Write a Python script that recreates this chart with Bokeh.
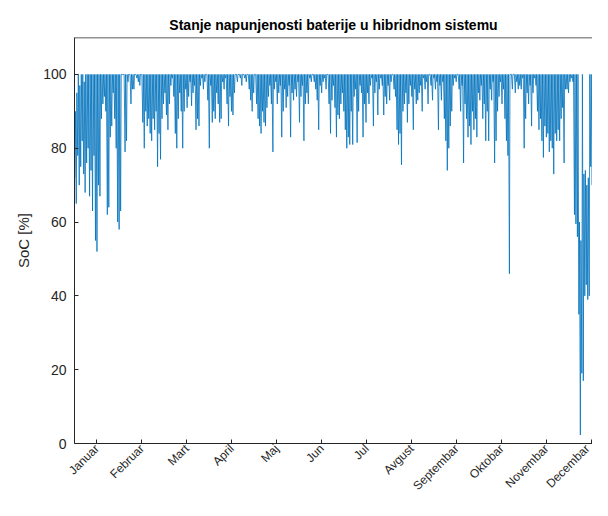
import math
from bokeh.plotting import figure
from bokeh.models import FixedTicker, LinearAxis, Range1d, Span
from bokeh.embed import file_html
from bokeh.resources import INLINE

# ---------------- data ----------------
month_names = ["Januar", "Februar", "Mart", "April", "Maj", "Jun", "Jul",
               "Avgust", "Septembar", "Oktobar", "Novembar", "Decembar"]
month_tick_hours = [365, 1095, 1825, 2555, 3285, 4015, 4745, 5475, 6205, 6935, 7665, 8395]
y_ticks = [0, 20, 40, 60, 80, 100]

# daily minimum state of charge [%], day 0 .. 364
daily_min = [
    72, 65, 78, 70, 75, 82, 73, 68, 76, 80,
    67, 74, 63, 78, 55, 52, 70, 67, 88, 92,
    94, 90, 62, 64, 83, 86, 95, 88, 80, 60,
    58, 63, 100, 100, 79, 82, 98, 100, 92, 96,
    96, 100, 99, 98, 97, 100, 87, 80, 90, 86,
    88, 84, 82, 88, 85, 90, 75, 84, 77, 88,
    92, 95, 89, 85, 92, 97, 99, 94, 84, 80,
    88, 95, 90, 80, 90, 96, 91, 94, 98, 91.5,
    95, 97, 85, 88, 86, 97, 99, 96, 98, 100,
    93, 80, 97, 87, 90, 88, 95, 92, 87, 88,
    98, 96, 99, 92, 86, 94, 90, 89, 95, 100,
    98, 100, 99, 97, 100, 99, 98, 100, 96, 93,
    90, 95, 100, 92, 88, 86, 84, 90, 87, 86,
    91, 94, 97, 92, 79, 96, 98, 92, 95, 97,
    83, 90, 96, 91, 94, 97, 83, 95, 93, 96,
    94, 98, 87, 94, 97, 82, 92, 95, 92, 99,
    98, 100, 98, 96, 93, 85, 97, 95, 98, 99,
    96, 100, 92, 84, 93, 97, 91, 83, 89, 88,
    92, 95, 90, 85, 80, 83, 81, 90, 81, 94,
    96, 81.5, 90, 97, 95, 83, 92, 87, 95, 92,
    97, 99, 86, 95, 98, 89, 96, 99, 97, 89,
    94, 92, 97, 93, 98, 100, 96, 94, 85, 81,
    84, 75.5, 90, 92, 95, 87, 92, 97, 94, 85,
    96, 92, 93, 95, 97, 90, 99, 96, 98, 92,
    100, 97, 93, 99, 96, 98, 85, 97, 93, 98,
    88, 82, 74, 80, 86, 90, 97, 99, 98, 100,
    96, 90, 97, 76, 92, 88, 83, 86, 81, 90,
    85, 88, 83, 95, 93, 97, 88, 92, 82, 90,
    82, 96, 93, 98, 76, 82, 90, 94, 98, 92,
    96, 88, 82, 78, 46, 100, 96, 100, 95, 98,
    96, 97, 96, 99, 80, 88, 95, 92, 97, 86,
    95, 99, 97, 90, 85, 88, 82, 77.5, 86, 83,
    84, 79, 82, 80, 73, 84, 82, 85, 82, 88,
    91, 76, 96, 96, 95, 98, 99, 98, 62, 59.5,
    56, 35, 2.3, 19, 17, 40, 43, 39, 40, 75,
    70, 72, 71, 65, 93, 95, 97, 98, 95, 97,
    99, 96, 98, 100, 97,
]

# daily maximum state of charge [%], day 0 .. 364
daily_max = [
    90, 95, 100, 97, 100, 100, 98, 100, 100, 100, 100, 100, 100, 100, 100, 100, 100, 100, 100, 100,
    100, 100, 100, 100, 100, 100, 100, 100, 100, 100, 100, 100, 100, 100, 100, 100, 100, 100, 100, 100,
    100, 100, 100, 100, 100, 100, 100, 100, 100, 100, 100, 100, 100, 100, 100, 100, 100, 100, 100, 100,
    100, 100, 100, 100, 100, 100, 100, 100, 100, 100, 100, 100, 100, 100, 100, 100, 100, 100, 100, 100,
    100, 100, 100, 100, 100, 100, 100, 100, 100, 100, 100, 100, 100, 100, 100, 100, 100, 100, 100, 100,
    100, 100, 100, 100, 100, 100, 100, 100, 100, 100, 100, 100, 100, 100, 100, 100, 100, 100, 100, 100,
    100, 100, 100, 100, 100, 100, 100, 100, 100, 100, 100, 100, 100, 100, 100, 100, 100, 100, 100, 100,
    100, 100, 100, 100, 100, 100, 100, 100, 100, 100, 100, 100, 100, 100, 100, 100, 100, 100, 100, 100,
    100, 100, 100, 100, 100, 100, 100, 100, 100, 100, 100, 100, 100, 100, 100, 100, 100, 100, 100, 100,
    100, 100, 100, 100, 100, 100, 100, 100, 100, 100, 100, 100, 100, 100, 100, 100, 100, 100, 100, 100,
    100, 100, 100, 100, 100, 100, 100, 100, 100, 100, 100, 100, 100, 100, 100, 100, 100, 100, 100, 100,
    100, 100, 100, 100, 100, 100, 100, 100, 100, 100, 100, 100, 100, 100, 100, 100, 100, 100, 100, 100,
    100, 100, 100, 100, 100, 100, 100, 100, 100, 100, 100, 100, 100, 100, 100, 100, 100, 100, 100, 100,
    100, 100, 100, 100, 100, 100, 100, 100, 100, 100, 100, 100, 100, 100, 100, 100, 100, 100, 100, 100,
    100, 100, 100, 100, 100, 100, 100, 100, 100, 100, 100, 100, 100, 100, 100, 100, 100, 100, 100, 100,
    100, 100, 100, 100, 100, 100, 100, 100, 100, 100, 100, 100, 100, 100, 100, 100, 100, 100, 100, 100,
    100, 100, 100, 100, 100, 100, 100, 100, 100, 100, 100, 100, 100, 100, 100, 100, 100, 100, 100, 100,
    100, 60, 55, 100, 73, 74, 70, 72, 100, 100, 100, 100, 100, 100, 100, 100, 100, 100, 100, 100,
    100, 100, 100, 100, 100,
]

MIN_HOUR = 5    # hour of day of the daily minimum
MAX_HOUR = 14   # hour of day of the daily maximum

hours, soc = [], []
for d, (lo, hi) in enumerate(zip(daily_min, daily_max)):
    hours += [24 * d + MIN_HOUR, 24 * d + MAX_HOUR]
    soc += [lo, hi]

# ---------------- figure ----------------
FONT = "Liberation Sans"
AX = "#262626"

p = figure(width=592, height=500, output_backend="svg", toolbar_location=None,
           x_range=Range1d(0, 8410), y_range=Range1d(0, 110),
           min_border_left=74, min_border_right=0, min_border_top=37,
           min_border_bottom=57, x_axis_type=None, y_axis_type=None)
p.outline_line_color = None
p.xgrid.visible = False
p.ygrid.visible = False
p.background_fill_color = "white"
p.border_fill_color = "white"

p.title.text = "Stanje napunjenosti baterije u hibridnom sistemu"
p.title.align = "center"
p.title.text_font = FONT
p.title.text_font_size = "14px"
p.title.text_font_style = "bold"
p.title.text_color = "black"
p.title.offset = 0

p.line(hours, soc, line_color="#0072BD", line_width=0.8)

xax = LinearAxis(ticker=FixedTicker(ticks=month_tick_hours))
xax.major_label_overrides = {t: n for t, n in zip(month_tick_hours, month_names)}
xax.major_label_orientation = math.pi / 4
xax.major_label_text_font = FONT
xax.major_label_text_font_size = "12px"
xax.major_label_text_color = AX
xax.major_tick_in = 4
xax.major_tick_out = 0
xax.minor_tick_line_color = None
xax.axis_line_color = AX
xax.major_tick_line_color = AX
xax.major_label_standoff = 3
p.add_layout(xax, "below")

yax = LinearAxis(ticker=FixedTicker(ticks=y_ticks), axis_label="SoC [%]")
yax.major_label_text_font = FONT
yax.major_label_text_font_size = "14px"
yax.major_label_text_color = AX
yax.axis_label_text_font = FONT
yax.axis_label_text_font_size = "15px"
yax.axis_label_text_font_style = "normal"
yax.axis_label_text_color = AX
yax.axis_label_standoff = 8
yax.major_tick_in = 4
yax.major_tick_out = 0
yax.minor_tick_line_color = None
yax.axis_line_color = AX
yax.major_tick_line_color = AX
yax.major_label_standoff = 8
p.add_layout(yax, "left")

top = Span(location=110, dimension="width", line_color=AX, line_width=1.5)
p.add_layout(top)

open("out.html", "w").write(file_html(p, INLINE))
